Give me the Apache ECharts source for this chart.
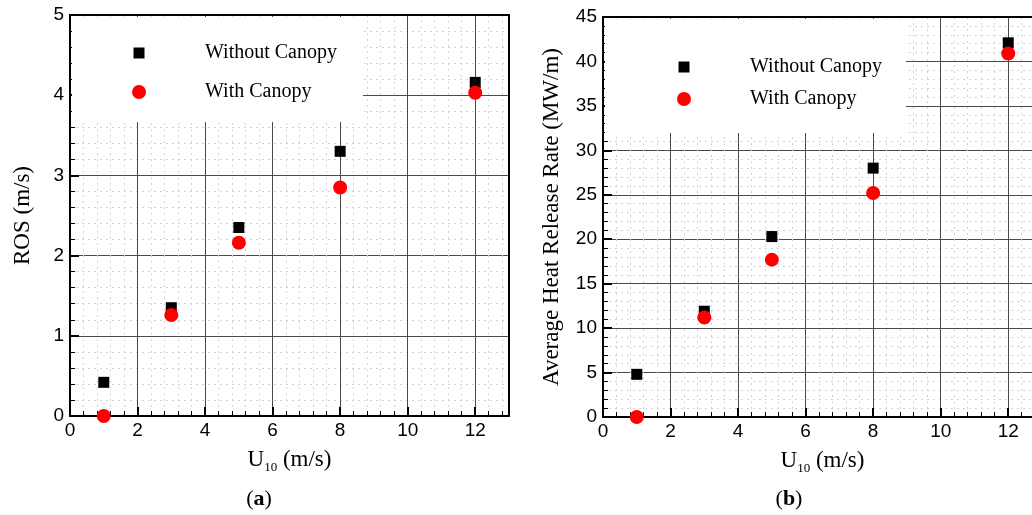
<!DOCTYPE html>
<html><head><meta charset="utf-8">
<script src="https://cdn.jsdelivr.net/npm/echarts@6/dist/echarts.min.js"></script>
<style>html,body{margin:0;padding:0;background:#fff}#c{width:1032px;height:515px}</style>
</head><body><div id="c"></div>
<script>
// ---- data ----
const windSpeed = [1, 3, 5, 8, 12];
const rosWithout = [0.42, 1.35, 2.35, 3.30, 4.16];
const rosWith = [0.0, 1.26, 2.16, 2.85, 4.03];
const hrrWithout = [4.8, 11.9, 20.3, 28.0, 42.1];
const hrrWith = [0.0, 11.2, 17.7, 25.2, 40.9];
const seriesNames = ['Without Canopy', 'With Canopy'];
const xAxisTitle = 'U{s|10} (m/s)';
const yAxisTitles = ['ROS (m/s)', 'Average Heat Release Rate (MW/m)'];
const panelLabels = ['a', 'b'];

// ---- styling / layout ----
const SERIF = 'Liberation Serif';
const SANS = 'Liberation Sans';
const grids = [
  {left: 70, top: 15, width: 439, height: 401, outerBoundsMode: 'none'},
  {left: 603, top: 17, width: 439, height: 400, outerBoundsMode: 'none'}
];
const yRanges = [{min: 0, max: 5, interval: 1}, {min: 0, max: 45, interval: 5}];
const yNameGaps = [36, 40];

function mainX(gi) {
  return {
    gridIndex: gi, type: 'value', min: 0, max: 13, interval: 2,
    name: xAxisTitle, nameLocation: 'middle', nameGap: 30,
    nameTextStyle: {fontFamily: SERIF, fontSize: 23, color: '#000', lineHeight: 28,
      rich: {s: {fontFamily: SERIF, fontSize: 13, color: '#000', verticalAlign: 'bottom', lineHeight: 13}}},
    axisLine: {show: true, onZero: false, lineStyle: {color: '#000', width: 2}},
    axisTick: {show: true, inside: true, length: 9, lineStyle: {color: '#000', width: 2}},
    minorTick: {show: true, splitNumber: 5, length: 5, lineStyle: {color: '#000', width: 1}},
    axisLabel: {show: true, showMaxLabel: false, margin: 5, fontFamily: SANS, fontSize: 19, color: '#000'},
    splitLine: {show: true, lineStyle: {color: '#4a4a4a', width: 1}},
    minorSplitLine: {show: true, lineStyle: {color: '#d2d2d2', width: 1, type: [2, 4]}}
  };
}
function mainY(gi) {
  const r = yRanges[gi];
  return {
    gridIndex: gi, type: 'value', min: r.min, max: r.max, interval: r.interval,
    name: yAxisTitles[gi], nameLocation: 'middle', nameGap: yNameGaps[gi], nameRotate: 90,
    nameTextStyle: {fontFamily: SERIF, fontSize: 23, color: '#000'},
    axisLine: {show: true, onZero: false, lineStyle: {color: '#000', width: 2}},
    axisTick: {show: true, inside: true, length: 9, lineStyle: {color: '#000', width: 2}},
    minorTick: {show: true, splitNumber: 5, length: 5, lineStyle: {color: '#000', width: 1}},
    axisLabel: {show: true, margin: 6, fontFamily: SANS, fontSize: 19, color: '#000'},
    splitLine: {show: true, lineStyle: {color: '#4a4a4a', width: 1}},
    minorSplitLine: {show: true, lineStyle: {color: '#d2d2d2', width: 1, type: [2, 4]}}
  };
}
function frameX(gi) {
  return {gridIndex: gi, type: 'value', min: 0, max: 13, position: 'top',
    axisLine: {show: true, onZero: false, lineStyle: {color: '#000', width: 2}},
    axisTick: {show: false}, axisLabel: {show: false}, splitLine: {show: false}};
}
function frameY(gi) {
  const r = yRanges[gi];
  return {gridIndex: gi, type: 'value', min: r.min, max: r.max, position: 'right',
    axisLine: {show: true, onZero: false, lineStyle: {color: '#000', width: 2}},
    axisTick: {show: false}, axisLabel: {show: false}, splitLine: {show: false}};
}

const squareIcon = 'path://M0,0M14,14M1.5,1.5H12.5V12.5H1.5Z';
function makeLegend(left, top, padding, gap) {
  return {
    left: left, top: top, orient: 'vertical', padding: padding, itemGap: gap,
    backgroundColor: '#fff', itemWidth: 14, itemHeight: 14, selectedMode: false,
    data: [{name: seriesNames[0], icon: squareIcon}, {name: seriesNames[1], icon: 'circle'}],
    textStyle: {fontFamily: SERIF, fontSize: 20, color: '#000', lineHeight: 24, padding: [0, 0, 0, 54]}
  };
}

const panels = [[rosWithout, rosWith], [hrrWithout, hrrWith]];
const series = [];
panels.forEach((p, gi) => {
  series.push({name: seriesNames[0], type: 'scatter', xAxisIndex: gi * 2, yAxisIndex: gi * 2,
    symbol: 'rect', symbolSize: 11, itemStyle: {color: '#000', opacity: 1}, z: 3,
    data: windSpeed.map((x, i) => [x, p[0][i]])});
  series.push({name: seriesNames[1], type: 'scatter', xAxisIndex: gi * 2, yAxisIndex: gi * 2,
    symbol: 'circle', symbolSize: 14, itemStyle: {color: '#ff0000', opacity: 1}, z: 4,
    data: windSpeed.map((x, i) => [x, p[1][i]])});
});

const chart = echarts.init(document.getElementById('c'), null, {renderer: 'canvas'});
chart.setOption({
  animation: false,
  backgroundColor: '#fff',
  grid: grids,
  xAxis: [mainX(0), frameX(0), mainX(1), frameX(1)],
  yAxis: [mainY(0), frameY(0), mainY(1), frameY(1)],
  legend: [
    makeLegend(72, 17, [24, 26, 18, 60], 15),
    makeLegend(605, 19, [36, 24, 22, 72], 8)
  ],
  title: [
    {text: '({b|' + panelLabels[0] + '})', left: 259, top: 488, textAlign: 'center', padding: 0,
      textStyle: {fontFamily: SERIF, fontSize: 22, fontWeight: 'normal', color: '#000',
        rich: {b: {fontFamily: SERIF, fontSize: 22, fontWeight: 'bold', color: '#000'}}}},
    {text: '({b|' + panelLabels[1] + '})', left: 789, top: 488, textAlign: 'center', padding: 0,
      textStyle: {fontFamily: SERIF, fontSize: 22, fontWeight: 'normal', color: '#000',
        rich: {b: {fontFamily: SERIF, fontSize: 22, fontWeight: 'bold', color: '#000'}}}}
  ],
  series: series
});
</script></body></html>
